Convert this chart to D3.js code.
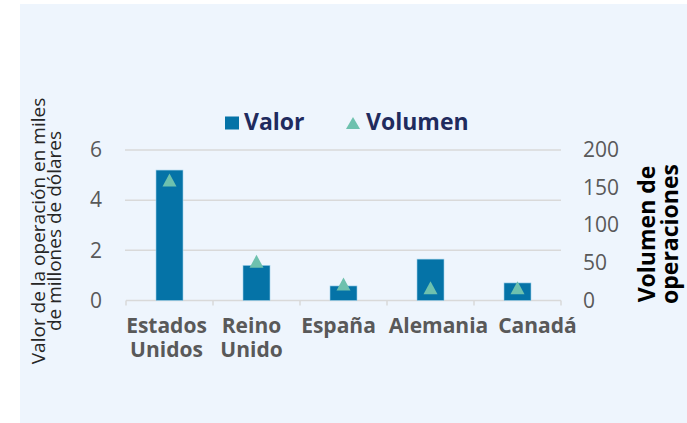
<!DOCTYPE html>
<html>
<head>
<meta charset="utf-8">
<script src="https://cdn.jsdelivr.net/npm/d3@7/dist/d3.min.js"></script>
<style>
  body { margin: 0; background: #fff; }
  text { font-family: "Open Sans", sans-serif; }
</style>
</head>
<body>
<svg id="chart" width="687" height="423"></svg>
<script>
// data
const categories = [['Estados', 'Unidos'], ['Reino', 'Unido'], ['España'], ['Alemania'], ['Canadá']];
const valor = [5.2, 1.4, 0.58, 1.65, 0.7];        // miles de millones de dólares
const volumen = [160, 52, 22, 17, 17];          // número de operaciones
const leftTicks = [0, 2, 4, 6];
const rightTicks = [0, 50, 100, 150, 200];

// label nudges, Excel doesn't center them exactly
const labelDx = [-3, -5, -5, 8, 20];

const svg = d3.select('#chart');
const W = 687, H = 423;
const plot = { left: 126, right: 561, top: 150, bottom: 300.5 };

svg.append('rect')
  .attr('x', 20).attr('y', 4)
  .attr('width', W - 20).attr('height', H - 4)
  .attr('fill', '#eef5fd');

const x = d3.scaleBand()
  .domain(d3.range(categories.length))
  .range([plot.left, plot.right])
  .paddingInner(0).paddingOuter(0);
const yL = d3.scaleLinear().domain([0, 6]).range([plot.bottom, plot.top]);
const yR = d3.scaleLinear().domain([0, 200]).range([plot.bottom, plot.top]);

// gridlines
svg.append('g').selectAll('line')
  .data(leftTicks.filter(d => d > 0)).enter()
  .append('line')
  .attr('x1', plot.left - 1).attr('x2', plot.right)
  .attr('y1', d => yL(d)).attr('y2', d => yL(d))
  .attr('stroke', '#d9d9d9').attr('stroke-width', 1.5);

// left axis labels
const gL = svg.append('g').attr('transform', `translate(${plot.left},0)`)
  .call(d3.axisLeft(yL).tickValues(leftTicks).tickFormat(d3.format('d')).tickSize(0).tickPadding(24));
gL.select('.domain').remove();
gL.selectAll('text').attr('font-size', 21).attr('fill', '#595959')
  .attr('font-family', '"Open Sans", sans-serif');

// right axis labels
const gR = svg.append('g').attr('transform', `translate(${plot.right},0)`)
  .call(d3.axisRight(yR).tickValues(rightTicks).tickSize(0).tickPadding(22));
gR.select('.domain').remove();
gR.selectAll('text').attr('font-size', 21).attr('fill', '#595959')
  .attr('font-family', '"Open Sans", sans-serif');

// bottom axis line + tick marks at category borders
const gB = svg.append('g');
gB.append('line')
  .attr('x1', plot.left).attr('x2', plot.right)
  .attr('y1', plot.bottom).attr('y2', plot.bottom)
  .attr('stroke', '#d9d9d9').attr('stroke-width', 1.5);
gB.selectAll('line.tk')
  .data(d3.range(categories.length + 1)).enter()
  .append('line').attr('class', 'tk')
  .attr('x1', i => plot.left + i * x.bandwidth())
  .attr('x2', i => plot.left + i * x.bandwidth())
  .attr('y1', plot.bottom).attr('y2', plot.bottom + 5)
  .attr('stroke', '#d9d9d9').attr('stroke-width', 1.5);

// bars
const barW = 27;
svg.append('g').selectAll('rect')
  .data(valor).enter()
  .append('rect')
  .attr('x', (d, i) => x(i) + x.bandwidth() / 2 - barW / 2)
  .attr('y', d => yL(d))
  .attr('width', barW)
  .attr('height', d => yL(0) - yL(d))
  .attr('fill', '#0573a7')
  .attr('stroke', '#9fd0ea').attr('stroke-width', 0.6);

// triangles
const tri = (w, h) => `M0,${-h / 2}L${w / 2},${h / 2}L${-w / 2},${h / 2}Z`;
svg.append('g').selectAll('path')
  .data(volumen).enter()
  .append('path')
  .attr('d', tri(14, 13))
  .attr('transform', (d, i) => `translate(${x(i) + x.bandwidth() / 2},${yR(d)})`)
  .attr('fill', '#6ec1ae');

// category labels, one text per line
const lines = [];
categories.forEach((c, i) => c.forEach((t, j) => lines.push({ t, i, j })));
svg.append('g').selectAll('text')
  .data(lines).enter()
  .append('text')
  .attr('text-anchor', 'middle')
  .attr('font-size', 21).attr('font-weight', 'bold').attr('fill', '#595959')
  .attr('x', d => x(d.i) + x.bandwidth() / 2 + labelDx[d.i])
  .attr('y', d => 333 + d.j * 23.5)
  .text(d => d.t);

// legend
const lg = svg.append('g');
lg.append('rect').attr('x', 225).attr('y', 116.5).attr('width', 14).attr('height', 13).attr('fill', '#0573a7');
lg.append('text').attr('x', 244).attr('y', 129.5)
  .attr('font-size', 23).attr('font-weight', 'bold').attr('fill', '#1f2b5e').text('Valor');
lg.append('path').attr('d', tri(14, 12)).attr('transform', 'translate(353,123)').attr('fill', '#6ec1ae');
lg.append('text').attr('x', 366).attr('y', 129.5)
  .attr('font-size', 23).attr('font-weight', 'bold').attr('fill', '#1f2b5e').text('Volumen');

// axis titles
const lt = svg.append('g').attr('transform', 'translate(45,231) rotate(-90)');
lt.append('text').attr('text-anchor', 'middle').attr('x', 0).attr('y', 0)
  .attr('font-size', 19).attr('fill', '#262626').text('Valor de la operación en miles');
lt.append('text').attr('text-anchor', 'middle').attr('x', 0).attr('y', 15.5)
  .attr('font-size', 19).attr('fill', '#262626').text('de millones de dólares');

const rt = svg.append('g').attr('transform', 'translate(655,234) rotate(-90)');
rt.append('text').attr('text-anchor', 'middle').attr('x', 0).attr('y', 0)
  .attr('font-size', 23).attr('font-weight', 'bold').attr('fill', '#000').text('Volumen de');
rt.append('text').attr('text-anchor', 'middle').attr('x', 0).attr('y', 23)
  .attr('font-size', 23).attr('font-weight', 'bold').attr('fill', '#000').text('operaciones');
</script>
</body>
</html>
